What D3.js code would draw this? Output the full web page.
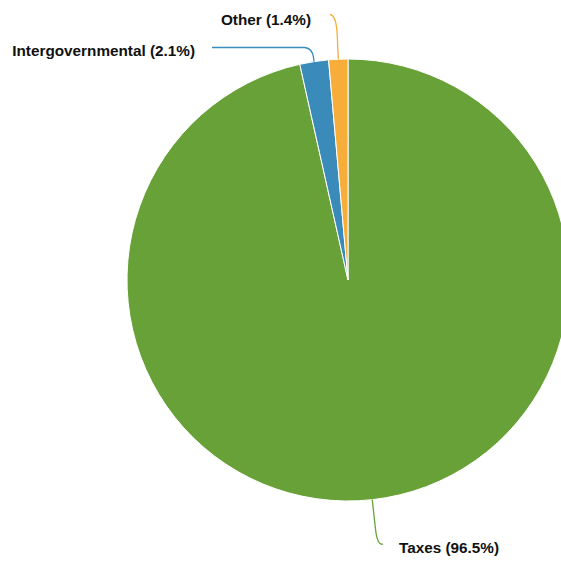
<!DOCTYPE html>
<html>
<head>
<meta charset="utf-8">
<script src="https://cdn.jsdelivr.net/npm/d3@7"></script>
<style>
  html, body { margin: 0; padding: 0; background: #fff; }
  svg { display: block; }
  .lbl { font-family: "Liberation Sans", Arial, Helvetica, sans-serif; font-weight: bold; font-size: 15.3px; fill: #111; }
</style>
</head>
<body>
<svg id="chart" width="561" height="561"></svg>
<script>
// Revenue shares by source (percent)
const categories = ["Taxes", "Intergovernmental", "Other"];
const shares = [96.5, 2.1, 1.4];
const sliceColors = ["#69a139", "#3b8bba", "#f7ad39"];

// Chart geometry
const width = 561, height = 561;
const cx = 348, cy = 280, radius = 221;

// Leader-line layout per slice: radial elbow radius, bend radius,
// where the curve finishes, where the horizontal run ends, and text placement
const leaderLayout = [
  { r1: 250, r2: 268, endX: 383, endY: 544, runX: 383, textX: 399, textY: 553, anchor: "start" },
  { r1: 226, r2: 234, endX: 305, endY: 47.5, runX: 212, textX: 195, textY: 56, anchor: "end" },
  { r1: 245, r2: 265, endX: 330, endY: 14.5, runX: 330, textX: 311, textY: 25, anchor: "end" }
];

const data = categories.map((c, i) => ({ name: c, value: shares[i], color: sliceColors[i], layout: leaderLayout[i] }));

const svg = d3.select("#chart");
const g = svg.append("g").attr("transform", `translate(${cx},${cy})`);

const pie = d3.pie().sort(null).value(d => d.value);
const arc = d3.arc().innerRadius(0).outerRadius(radius);
const arcs = pie(data);

g.selectAll("path.slice")
  .data(arcs)
  .join("path")
  .attr("class", "slice")
  .attr("d", arc)
  .attr("fill", d => d.data.color)
  .attr("stroke", "#fff")
  .attr("stroke-width", 1);

const polar = (a, r) => [Math.sin(a) * r, -Math.cos(a) * r];

// Curved leader lines
g.selectAll("path.leader")
  .data(arcs)
  .join("path")
  .attr("class", "leader")
  .attr("fill", "none")
  .attr("stroke", d => d.data.color)
  .attr("stroke-width", 1.3)
  .attr("d", d => {
    const a = (d.startAngle + d.endAngle) / 2;
    const L = d.data.layout;
    const p0 = polar(a, radius);
    const p1 = polar(a, L.r1);
    const c = polar(a, L.r2);
    const path = d3.path();
    path.moveTo(p0[0], p0[1]);
    path.lineTo(p1[0], p1[1]);
    path.quadraticCurveTo(c[0], c[1], L.endX - cx, L.endY - cy);
    path.lineTo(L.runX - cx, L.endY - cy);
    return path.toString();
  });

// Labels
svg.selectAll("text.lbl")
  .data(arcs)
  .join("text")
  .attr("class", "lbl")
  .attr("x", d => d.data.layout.textX)
  .attr("y", d => d.data.layout.textY)
  .attr("text-anchor", d => d.data.layout.anchor)
  .text(d => `${d.data.name} (${d3.format(".1f")(d.data.value)}%)`);
</script>
</body>
</html>
